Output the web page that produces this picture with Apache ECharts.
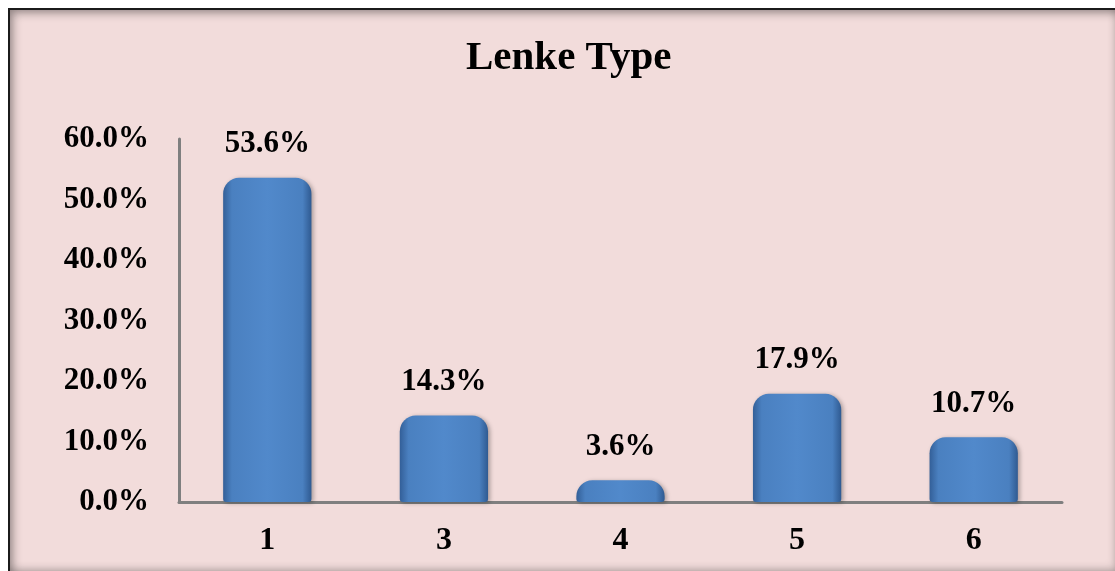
<!DOCTYPE html>
<html>
<head>
<meta charset="utf-8">
<script src="https://cdn.jsdelivr.net/npm/echarts@6/dist/echarts.min.js"></script>
<style>
  html, body { margin: 0; padding: 0; background: #ffffff; overflow: hidden; }
  .frame {
    position: absolute; left: 8px; top: 8px; width: 1108px; height: 562px;
    border: 2px solid #1b1b1b; background: #f2dcdb;
    box-shadow: inset 3px 3px 10px rgba(0,0,0,0.35), inset -3px -3px 8px rgba(0,0,0,0.2);
  }
  .lenke-chart { position: absolute; left: 0; top: 0; width: 1115px; height: 571px; }
</style>
</head>
<body>
<div class="frame"></div>
<div class="lenke-chart" id="chart"></div>
<script>
// 数据
const categories = ['1', '3', '4', '5', '6'];
const percentValues = [53.6, 14.3, 3.6, 17.9, 10.7];
const yTicks = [0, 10, 20, 30, 40, 50, 60];

const serif = 'Liberation Serif, Times New Roman, serif';

const myChart = echarts.init(document.getElementById('chart'));
myChart.setOption({
  backgroundColor: 'transparent',
  title: {
    text: 'Lenke Type',
    left: 461,
    top: 33,
    textStyle: { fontFamily: serif, fontSize: 41, fontWeight: 'bold', color: '#000' }
  },
  grid: { left: 179, right: 53, top: 139, bottom: 69 },
  xAxis: {
    type: 'category',
    data: categories,
    axisLine: { lineStyle: { color: '#7f7f7f', width: 3 } },
    axisTick: { show: false },
    axisLabel: { margin: 23, fontFamily: serif, fontSize: 32, fontWeight: 'bold', color: '#000' }
  },
  yAxis: {
    type: 'value',
    min: yTicks[0],
    max: yTicks[yTicks.length - 1],
    interval: 10,
    axisLine: { show: true, lineStyle: { color: '#7f7f7f', width: 3 } },
    axisTick: { show: false },
    splitLine: { show: false },
    axisLabel: {
      margin: 30,
      fontFamily: serif, fontSize: 31, fontWeight: 'bold', color: '#000',
      formatter: v => v.toFixed(1) + '%'
    }
  },
  series: [{
    type: 'bar',
    data: percentValues,
    barWidth: '50%',
    itemStyle: {
      borderRadius: [16, 16, 3, 3],
      color: new echarts.graphic.LinearGradient(0, 0, 1, 0, [
        { offset: 0, color: '#335f98' },
        { offset: 0.1, color: '#4a80c0' },
        { offset: 0.5, color: '#5189cb' },
        { offset: 0.9, color: '#4a80c0' },
        { offset: 1, color: '#2f5a91' }
      ]),
      shadowColor: 'rgba(0,0,0,0.3)',
      shadowBlur: 4,
      shadowOffsetX: 2,
      shadowOffsetY: 1
    },
    label: {
      show: true,
      position: 'top',
      distance: 18,
      fontFamily: serif, fontSize: 31, fontWeight: 'bold', color: '#000',
      formatter: p => p.value.toFixed(1) + '%'
    }
  }]
});

window.addEventListener('resize', () => myChart.resize());
</script>
</body>
</html>
